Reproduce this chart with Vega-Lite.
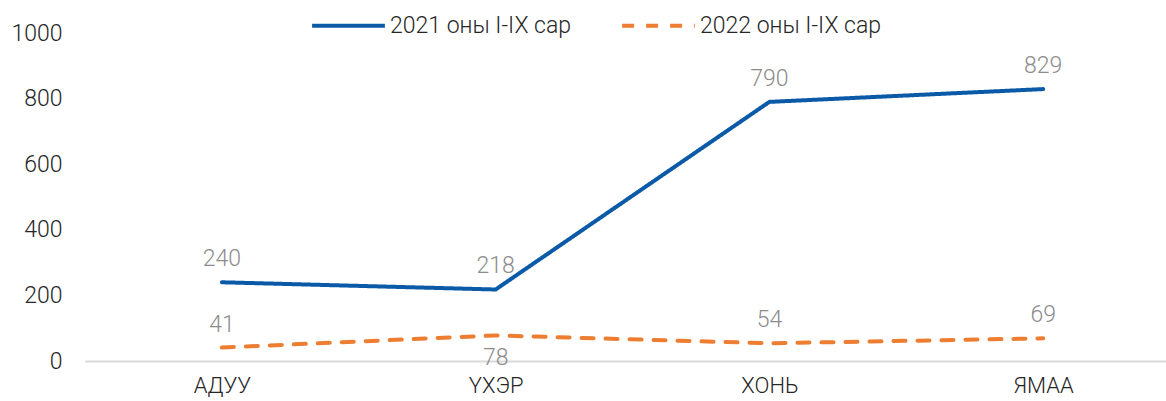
{
  "$schema": "https://vega.github.io/schema/vega-lite/v6.json",
  "autosize": {"type": "none"},
  "width": 1095,
  "height": 328,
  "padding": {"left": 85, "top": 33, "right": 0, "bottom": 40},
  "background": "white",
  "config": {
    "view": {"stroke": null},
    "font": "Roboto",
    "text": {"font": "Roboto"}
  },
  "data": {
    "values": [
      {"cat": "АДУУ", "series": "2021 оны I-IX сар", "value": 240},
      {"cat": "ҮХЭР", "series": "2021 оны I-IX сар", "value": 218},
      {"cat": "ХОНЬ", "series": "2021 оны I-IX сар", "value": 790},
      {"cat": "ЯМАА", "series": "2021 оны I-IX сар", "value": 829},
      {"cat": "АДУУ", "series": "2022 оны I-IX сар", "value": 41},
      {"cat": "ҮХЭР", "series": "2022 оны I-IX сар", "value": 78},
      {"cat": "ХОНЬ", "series": "2022 оны I-IX сар", "value": 54},
      {"cat": "ЯМАА", "series": "2022 оны I-IX сар", "value": 69}
    ]
  },
  "encoding": {
    "x": {
      "field": "cat", "type": "ordinal", "sort": null,
      "scale": {"type": "point", "padding": 0.5},
      "axis": {
        "title": null, "labelAngle": 0, "ticks": false,
        "domainColor": "#d9d9d9", "domainWidth": 2,
        "labelFont": "Roboto", "labelFontSize": 22, "labelFontWeight": 300, "labelColor": "#262626",
        "labelPadding": 14
      }
    },
    "y": {
      "field": "value", "type": "quantitative",
      "scale": {"domain": [0, 1000]},
      "axis": {
        "title": null, "grid": false, "domain": false, "ticks": false,
        "values": [0, 200, 400, 600, 800, 1000], "format": "d",
        "labelFont": "Roboto", "labelFontSize": 23, "labelFontWeight": 300, "labelColor": "#262626",
        "labelPadding": 23
      }
    }
  },
  "layer": [
    {
      "mark": {"type": "line", "strokeWidth": 4, "strokeCap": "round", "strokeJoin": "round"},
      "encoding": {
        "color": {
          "field": "series", "type": "nominal",
          "scale": {"range": ["#0B5AA8", "#ED7D31"]},
          "legend": {
            "title": null, "orient": "none", "direction": "horizontal",
            "legendX": 225, "legendY": -46,
            "symbolType": "stroke", "symbolSize": 5300, "symbolStrokeWidth": 4,
            "labelFont": "Roboto", "labelFontSize": 23, "labelFontWeight": 300, "labelColor": "#262626",
            "labelOffset": 3, "columnPadding": 42, "labelLimit": 0
          }
        },
        "strokeDash": {
          "field": "series", "type": "nominal",
          "scale": {"range": [[1, 0], [12, 12]]},
          "legend": null
        }
      }
    },
    {
      "transform": [{"filter": "datum.value != 78"}],
      "mark": {"type": "text", "dy": -23, "fontSize": 23, "fontWeight": 300, "color": "#8c8c8c", "font": "Roboto"},
      "encoding": {"text": {"field": "value", "type": "quantitative"}}
    },
    {
      "transform": [{"filter": "datum.value == 78"}],
      "mark": {"type": "text", "dy": 23, "fontSize": 23, "fontWeight": 300, "color": "#8c8c8c", "font": "Roboto"},
      "encoding": {"text": {"field": "value", "type": "quantitative"}}
    }
  ]
}
